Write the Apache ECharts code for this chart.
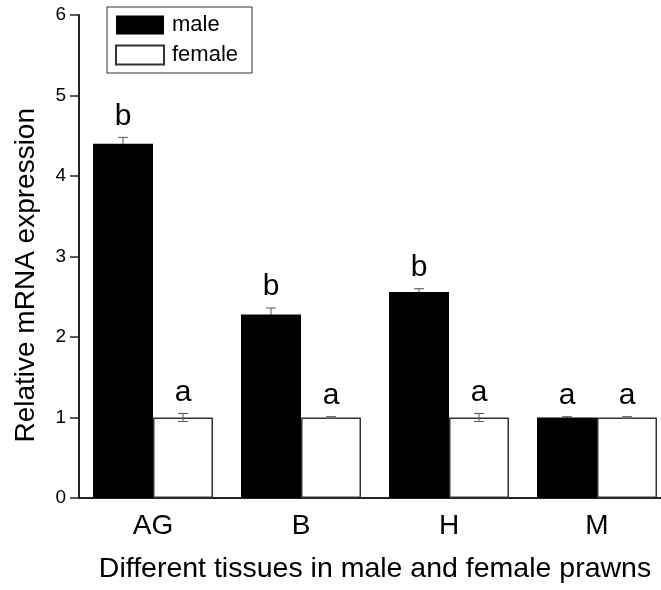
<!DOCTYPE html>
<html>
<head>
<meta charset="utf-8">
<script src="https://cdn.jsdelivr.net/npm/echarts@6/dist/echarts.min.js"></script>
<style>html,body{margin:0;padding:0;background:#fff;}#c{width:661px;height:590px;}</style>
</head>
<body>
<div id="c"></div>
<script>
var categories = ['AG', 'B', 'H', 'M'];
var maleValues = [4.40, 2.28, 2.56, 1.00];
var maleErrors = [0.08, 0.08, 0.04, 0.01];
var maleLetters = ['b', 'b', 'b', 'a'];
var femaleValues = [1.00, 1.00, 1.00, 1.00];
var femaleErrors = [0.05, 0.01, 0.05, 0.01];
var femaleLetters = ['a', 'a', 'a', 'a'];
var yTicks = [0, 1, 2, 3, 4, 5, 6];
var xTitle = 'Different tissues in male and female prawns';
var yTitle = 'Relative mRNA expression';

var FONT = "'Liberation Sans', Arial, sans-serif";
var BAR_W = 60;

function errData(vals, errs) {
  return vals.map(function (v, i) { return [i, v, errs[i]]; });
}

function makeErrRender(sign) {
  return function (params, api) {
    var i = api.value(0), v = api.value(1), e = api.value(2);
    var top = api.coord([i, v + e]);
    var bot = api.coord([i, v - e]);
    var x = top[0] + sign * BAR_W / 2;
    var cap = 5;
    var st = { stroke: '#555', lineWidth: 1 };
    return {
      type: 'group',
      children: [
        { type: 'line', shape: { x1: x, y1: top[1], x2: x, y2: bot[1] }, style: st },
        { type: 'line', shape: { x1: x - cap, y1: top[1], x2: x + cap, y2: top[1] }, style: st },
        { type: 'line', shape: { x1: x - cap, y1: bot[1], x2: x + cap, y2: bot[1] }, style: st }
      ]
    };
  };
}

function makeLetterRender(sign, letters) {
  return function (params, api) {
    var i = api.value(0), v = api.value(1), e = api.value(2);
    var top = api.coord([i, v + e]);
    var x = top[0] + sign * BAR_W / 2;
    return {
      type: 'text',
      style: {
        x: x, y: top[1] - 6, text: letters[params.dataIndex],
        font: '30px ' + FONT, fill: '#000', align: 'center', verticalAlign: 'bottom'
      }
    };
  };
}

var chart = echarts.init(document.getElementById('c'), null, { renderer: 'canvas' });
chart.setOption({
  animation: false,
  backgroundColor: '#fff',
  grid: { left: 79, width: 592, top: 15, bottom: 92, containLabel: false, outerBoundsMode: 'none' },
  legend: {
    orient: 'vertical', left: 107, top: 7,
    padding: [7, 14, 7, 8], itemGap: 8, itemWidth: 48, itemHeight: 19,
    borderColor: '#333', borderWidth: 1,
    textStyle: { fontFamily: FONT, fontSize: 22, color: '#000', padding: [0, 0, 0, 3] },
    data: [{ name: 'male', icon: 'rect' }, { name: 'female', icon: 'rect' }]
  },
  graphic: [{
    type: 'text', left: 12, top: 108, rotation: Math.PI / 2,
    style: { text: yTitle, font: '28px ' + FONT, fill: '#000' }
  }],
  xAxis: {
    type: 'category', data: categories,
    axisLine: { lineStyle: { color: '#222', width: 2 } },
    axisTick: { alignWithLabel: true, length: 10, lineStyle: { color: '#222', width: 1.5 } },
    axisLabel: { fontFamily: FONT, fontSize: 28, color: '#000', margin: 14 },
    name: xTitle,
    nameLocation: 'middle', nameGap: 57,
    nameTextStyle: { fontFamily: FONT, fontSize: 28.5, color: '#000' }
  },
  yAxis: {
    type: 'value', min: yTicks[0], max: yTicks[yTicks.length - 1], interval: 1,
    splitLine: { show: false },
    axisLine: { show: true, lineStyle: { color: '#222', width: 2 } },
    axisTick: { show: true, length: 9, lineStyle: { color: '#222', width: 1.5 } },
    axisLabel: { fontFamily: FONT, fontSize: 19, color: '#000', margin: 13 }
  },
  series: [
    { name: 'male', type: 'bar', data: maleValues, barWidth: BAR_W, barGap: '0%', z: 3,
      itemStyle: { color: '#000' } },
    { name: 'female', type: 'bar', data: femaleValues, barWidth: BAR_W, barGap: '0%', z: 3,
      itemStyle: { color: '#fff', borderColor: '#333', borderWidth: 1.5 } },
    { type: 'custom', z: 2, data: errData(maleValues, maleErrors), encode: { x: 0, y: 1 }, renderItem: makeErrRender(-1) },
    { type: 'custom', z: 4, data: errData(femaleValues, femaleErrors), encode: { x: 0, y: 1 }, renderItem: makeErrRender(1) },
    { type: 'custom', z: 5, data: errData(maleValues, maleErrors), encode: { x: 0, y: 1 }, renderItem: makeLetterRender(-1, maleLetters) },
    { type: 'custom', z: 5, data: errData(femaleValues, femaleErrors), encode: { x: 0, y: 1 }, renderItem: makeLetterRender(1, femaleLetters) }
  ]
});
</script>
</body>
</html>
